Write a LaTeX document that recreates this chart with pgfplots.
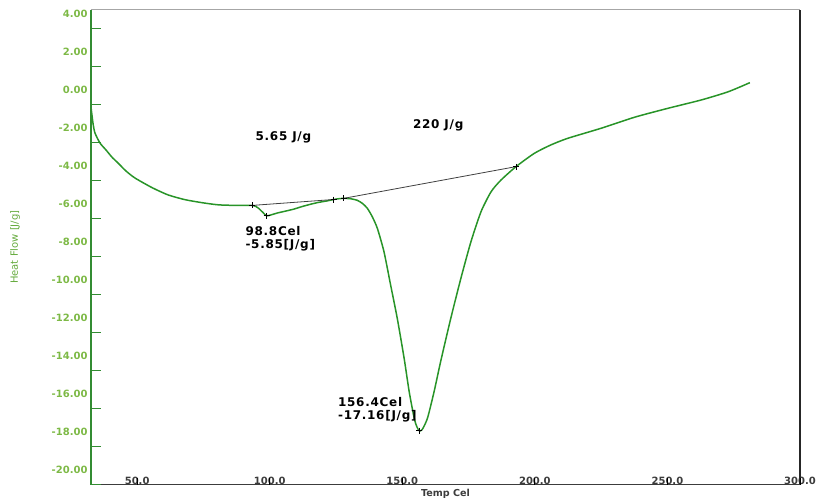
\documentclass[border=0pt]{standalone}
\usepackage{fontspec}
\setmainfont{DejaVu Sans}
\usepackage{pgfplots}
\pgfplotsset{compat=1.18}
\definecolor{curvegreen}{RGB}{40,148,40}
\definecolor{axisgreen}{RGB}{50,140,50}
\definecolor{tlgreen}{RGB}{125,185,70}
\definecolor{ylgreen}{RGB}{100,170,60}
\definecolor{labgray}{RGB}{60,60,60}
\newcommand\annfont{\fontsize{12}{14}\selectfont\bfseries\addfontfeature{LetterSpace=6}}
\begin{document}
\begin{tikzpicture}
\path[use as bounding box] (-91pt,-17.3pt) rectangle (725pt,484.7pt);
\begin{axis}[
  at={(0,0)}, anchor=south west,
  scale only axis, width=709pt, height=475pt,
  xmin=32.6, xmax=300, ymin=-20, ymax=5,
  clip=false,
  axis line style={draw=none},
  xtick={50,100,150,200,250,300},
  xticklabels={50.0,100.0,150.0,200.0,250.0,300.0},
  ytick={-20,-18,-16,-14,-12,-10,-8,-6,-4,-2,0,2,4},
  yticklabels={-20.00,-18.00,-16.00,-14.00,-12.00,-10.00,-8.00,-6.00,-4.00,-2.00,0.00,2.00,4.00},
  xtick pos=bottom, ytick pos=left,
  tick align=inside,
  major tick length=10pt,
  x tick style={draw=none},
  y tick style={draw=axisgreen, line width=1.5pt},
  xticklabel style={anchor=south, inner sep=0pt, yshift=-0.5pt, font=\fontsize{10}{12}\selectfont\bfseries, text=labgray},
  yticklabel style={yshift=15pt, font=\fontsize{10}{12}\selectfont\bfseries, text=tlgreen},
  xlabel={Temp Cel},
  ylabel={Heat Flow [J/g]},
  every axis x label/.style={at={(axis description cs:0.5,0)}, anchor=north, inner sep=0pt, yshift=-4.3pt, font=\fontsize{9.6}{11}\selectfont\bfseries, text=labgray},
  every axis y label/.style={at={(axis description cs:0,0.5)}, xshift=-76pt, rotate=90, anchor=center, font=\fontsize{10}{12}\selectfont, text=ylgreen},
]
% main DSC curve
\addplot[curvegreen, line width=1.5pt, smooth, tension=0.4] coordinates {
(32.6,-0.13) (33.4,-1.02) (34.1,-1.49) (36.0,-2.02) (38.3,-2.39) (40.5,-2.76)
(42.8,-3.07) (45.8,-3.49) (49.2,-3.86) (55.7,-4.37) (61.7,-4.75) (68.1,-5.0)
(74.6,-5.16) (80.6,-5.27) (87,-5.30) (93.5,-5.30) (95.5,-5.42) (97.5,-5.68)
(98.8,-5.85) (100.5,-5.80) (102.9,-5.70) (106,-5.60) (109,-5.50) (112,-5.37)
(115.4,-5.24) (118.5,-5.14) (121.8,-5.06) (124.1,-4.99) (126,-4.95) (127.9,-4.93)
(130.5,-4.95) (133,-5.03) (135,-5.2) (136.8,-5.45) (138.7,-5.9) (140.6,-6.51)
(143.1,-7.74) (145.6,-9.49) (148.1,-11.24) (150.7,-13.35) (152.6,-15.1)
(154.5,-16.5) (155.5,-16.95) (156.4,-17.16) (157.5,-17.1) (159.5,-16.5)
(162.0,-15.1) (164.5,-13.5) (168.3,-11.24) (172.1,-9.14) (175.9,-7.21)
(179.7,-5.63) (183.5,-4.58) (187.2,-3.97) (192.9,-3.26)
(199.8,-2.56) (206,-2.12) (212.4,-1.77) (225.0,-1.24) (237.6,-0.66)
(250.2,-0.19) (262.8,0.25) (272.9,0.68) (281.1,1.16)
};
% baselines
\addplot[black!75, line width=0.8pt] coordinates {(93.5,-5.30) (124.1,-4.99)};
\addplot[black!75, line width=0.8pt] coordinates {(127.9,-4.93) (192.9,-3.26)};
% markers
\addplot[only marks, mark=+, mark size=3pt, black, line width=0.8pt] coordinates {
(93.5,-5.30) (98.8,-5.85) (124.1,-4.99) (127.9,-4.93) (156.4,-17.16) (192.9,-3.26)};
% frame
\draw[gray!70, line width=1pt] (rel axis cs:0,1) -- (rel axis cs:1,1);
\draw[black!85, line width=1.2pt] (rel axis cs:1,0) -- (rel axis cs:1,1);
\draw[labgray, line width=1.5pt] (rel axis cs:0,0) -- (rel axis cs:1,0);
\draw[axisgreen, line width=1.5pt] (rel axis cs:0,0) -- (rel axis cs:0.014,0);
\draw[axisgreen, line width=2pt] (rel axis cs:0,0) -- (rel axis cs:0,1);
% x ticks (inward)
\pgfplotsinvokeforeach{50,100,150,200,250,300}{
  \draw[black, line width=1pt] (axis cs:#1,-20) -- (axis cs:#1,-19.66);
}
% annotations
\node[anchor=base west, inner sep=0pt] at (axis cs:94.6,-1.90) {\annfont 5.65 J/g};
\node[anchor=base west, inner sep=0pt] at (axis cs:154.0,-1.24) {\annfont 220 J/g};
\node[anchor=base west, inner sep=0pt] at (axis cs:90.8,-6.86) {\annfont 98.8Cel};
\node[anchor=base west, inner sep=0pt] at (axis cs:90.8,-7.56) {\annfont -5.85[J/g]};
\node[anchor=base west, inner sep=0pt] at (axis cs:125.7,-15.89) {\annfont 156.4Cel};
\node[anchor=base west, inner sep=0pt] at (axis cs:125.7,-16.59) {\annfont -17.16[J/g]};
\end{axis}
\end{tikzpicture}
\end{document}
